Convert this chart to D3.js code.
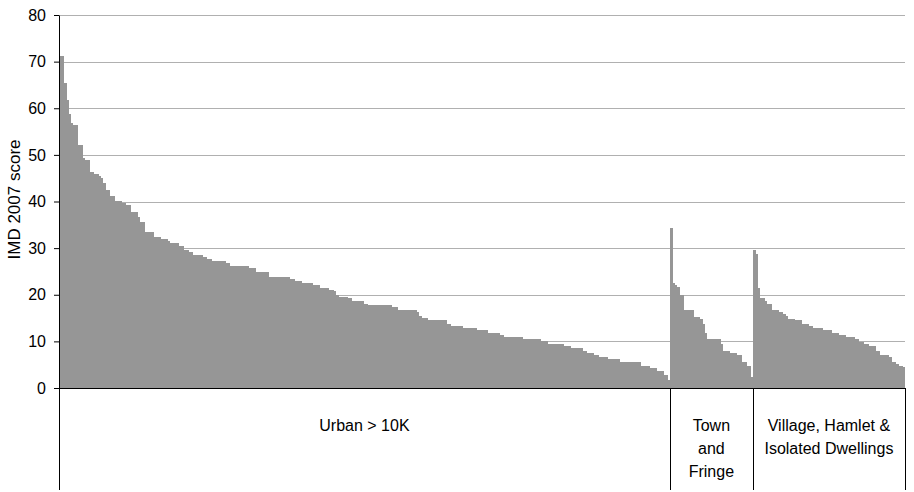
<!DOCTYPE html>
<html>
<head>
<meta charset="utf-8">
<script src="https://cdn.jsdelivr.net/npm/d3@7"></script>
<style>
  body { margin: 0; background: #fff; }
  text { font-family: "Liberation Sans", Arial, sans-serif; fill: #000; }
</style>
</head>
<body>
<div id="chart"></div>
<script>

// IMD 2007 scores, ranked within each settlement type
var urbanScores = [
  71.2,71.2,65.4,61.8,58.8,56.9,56.4,56.4,52.1,52.1,
  49.3,48.9,48.9,46.3,46.3,45.9,45.9,45.5,45.0,44.0,
  42.5,42.5,41.2,41.2,40.2,40.2,40.2,39.7,39.7,39.3,
  39.3,37.8,37.8,37.8,36.7,35.6,35.6,33.5,33.5,33.5,
  33.5,32.4,32.4,32.4,32.0,32.0,32.0,31.5,31.1,31.1,
  31.1,31.1,30.5,30.5,29.6,29.6,29.2,29.2,28.5,28.5,
  28.5,28.5,28.1,28.1,27.7,27.7,27.3,27.3,27.3,27.3,
  27.3,27.3,26.8,26.8,
  26.2,26.2,26.2,26.2,26.2,26.2,26.2,26.2,25.8,25.8,
  25.8,24.9,24.9,24.9,24.9,24.9,24.9,23.9,23.9,23.9,
  23.9,23.9,23.9,23.9,23.9,23.9,23.4,23.4,23.0,23.0,
  23.0,22.6,22.6,22.6,22.6,22.6,22.0,22.0,22.0,21.5,
  21.5,21.5,21.5,21.1,21.1,20.7,20.0,19.6,19.6,19.6,
  19.6,19.2,19.2,18.7,18.7,18.7,18.7,18.7,18.1,18.1,
  17.7,17.7,17.7,17.7,17.7,17.7,17.7,17.7,17.7,17.7,
  17.3,17.3,17.3,16.8,16.8,16.8,16.8,16.8,16.8,16.8,
  16.8,16.4,15.5,15.1,15.1,15.1,14.5,14.5,14.5,14.5,
  14.5,14.5,14.5,14.5,13.8,13.8,
  13.4,13.4,13.4,13.4,13.4,12.9,12.9,12.9,12.9,12.9,
  12.9,12.5,12.5,12.5,12.5,12.5,11.9,11.9,11.9,11.9,
  11.9,11.4,11.4,11.0,11.0,11.0,11.0,11.0,11.0,11.0,
  11.0,10.6,10.6,10.6,10.6,10.6,10.6,10.6,10.6,10.1,
  10.1,10.1,9.5,9.5,9.5,9.5,9.5,9.5,9.5,9.1,
  9.1,9.1,8.6,8.6,8.6,8.6,8.6,8.0,8.0,7.6,
  7.6,7.6,7.1,7.1,6.7,6.7,6.7,6.7,6.3,6.3,
  6.3,6.3,6.3,5.6,5.6,5.6,5.6,5.6,5.6,5.6,
  5.6,5.6,4.8,4.8,4.8,4.8,4.3,4.3,4.3,3.7,
  3.7,3.7,2.8,2.8,1.7
];
var townScores = [
  34.3,22.6,22.0,21.6,20.0,20.0,16.7,16.7,16.7,16.7,
  15.2,15.2,15.2,14.8,13.7,11.8,10.5,10.5,10.5,10.5,
  10.5,10.5,9.5,8.0,8.0,8.0,7.5,7.5,7.5,7.1,
  7.1,5.6,5.6,4.7,4.7,2.4
];
var villageScores = [
  29.7,28.7,21.5,19.2,19.2,18.7,18.1,18.1,16.8,16.8,
  16.8,16.4,16.4,15.8,15.4,14.9,14.9,14.9,14.5,14.5,
  14.5,13.8,13.8,13.8,13.4,13.4,12.9,12.9,12.9,12.9,
  12.5,12.5,12.5,12.5,11.9,11.9,11.9,11.4,11.4,11.4,
  11.0,11.0,11.0,11.0,10.6,10.6,9.9,9.9,9.5,9.5,
  9.1,9.1,9.1,8.0,8.0,7.1,7.1,7.1,7.1,6.7,
  5.6,5.6,5.2,4.8,4.8,4.4
];
var groupLabels = [
  ["Urban > 10K"],
  ["Town", "and", "Fringe"],
  ["Village, Hamlet &", "Isolated Dwellings"]
];
var yTicks = [0, 10, 20, 30, 40, 50, 60, 70, 80];
var yTitle = "IMD 2007 score";

var margin = {top: 15, right: 9, bottom: 104, left: 59};

var width = 914 - margin.left - margin.right,
    height = 492 - margin.top - margin.bottom;

var svg = d3.select("#chart").append("svg")
    .attr("width", 914)
    .attr("height", 492)
    .append("g")
    .attr("transform", "translate(" + margin.left + "," + margin.top + ")");

// flatten the three groups into one run of bars
var groups = [urbanScores, townScores, villageScores];
var bars = [];
groups.forEach(function (g, gi) {
    g.forEach(function (v, i) {
        bars.push({group: gi, idx: i, value: v, key: gi + "-" + i});
    });
});

var xScale = d3.scaleBand()
    .domain(bars.map(function (d) { return d.key; }))
    .range([0, width])
    .padding(0);

var yScale = d3.scaleLinear()
    .domain([0, 80])
    .range([height, 0]);

// gridlines
svg.selectAll(".grid")
    .data(yTicks.filter(function (t) { return t > 0; }))
    .enter()
    .append("line")
    .attr("class", "grid")
    .attr("x1", 0)
    .attr("x2", width)
    .attr("y1", function (d) { return Math.round(yScale(d)) + 0.5; })
    .attr("y2", function (d) { return Math.round(yScale(d)) + 0.5; })
    .style("stroke", "#b0b0b0")
    .style("stroke-width", "1px");

// bars (a touch wider so neighbours don't leave hairline gaps)
svg.selectAll(".bar")
    .data(bars)
    .enter()
    .append("rect")
    .attr("class", "bar")
    .attr("x", function (d) { return xScale(d.key); })
    .attr("y", function (d) { return yScale(d.value); })
    .attr("width", function (d, i) { return i === bars.length - 1 ? xScale.bandwidth() : xScale.bandwidth() + 0.6; })
    .attr("height", function (d) { return height - yScale(d.value); })
    .style("fill", "#969696")
    .style("shape-rendering", "crispEdges");

// y axis
var yAxis = d3.axisLeft(yScale)
    .tickValues(yTicks)
    .tickSizeInner(5)
    .tickSizeOuter(0)
    .tickPadding(8);

var yg = svg.append("g")
    .attr("class", "y axis")
    .call(yAxis);
yg.select(".domain").style("stroke", "#000");
yg.selectAll(".tick line").style("stroke", "#000");
yg.selectAll(".tick text")
    .style("font-size", "16px")
    .style("font-family", "'Liberation Sans', Arial, sans-serif");

// baseline
svg.append("line")
    .attr("x1", -5)
    .attr("x2", width)
    .attr("y1", height + 0.5)
    .attr("y2", height + 0.5)
    .style("stroke", "#000")
    .style("stroke-width", "1px");

// group boundaries below the axis
var boundaries = [0];
var count = 0;
groups.forEach(function (g) {
    count += g.length;
    boundaries.push(count);
});
var boundaryX = boundaries.map(function (b) {
    return b === bars.length ? width : xScale(bars[b].key);
});

svg.selectAll(".divider")
    .data(boundaryX)
    .enter()
    .append("line")
    .attr("class", "divider")
    .attr("x1", function (d) { return Math.round(d) + 0.5; })
    .attr("x2", function (d) { return Math.round(d) + 0.5; })
    .attr("y1", height)
    .attr("y2", height + 102)
    .style("stroke", "#000")
    .style("stroke-width", "1px");

// group labels
groupLabels.forEach(function (lines, gi) {
    var cx = (boundaryX[gi] + boundaryX[gi + 1]) / 2;
    var t = svg.append("text")
        .attr("class", "glabel")
        .attr("text-anchor", "middle")
        .attr("x", cx)
        .attr("y", height + 43)
        .style("font-size", "16px");
    lines.forEach(function (l, li) {
        t.append("tspan")
            .attr("x", cx)
            .attr("dy", li === 0 ? 0 : 23)
            .text(l);
    });
});

// y title
svg.append("text")
    .attr("text-anchor", "middle")
    .attr("transform", "translate(" + (-39) + "," + (height / 2 - 2) + ")rotate(-90)")
    .style("font-size", "17px")
    .text(yTitle);

</script>
</body>
</html>
